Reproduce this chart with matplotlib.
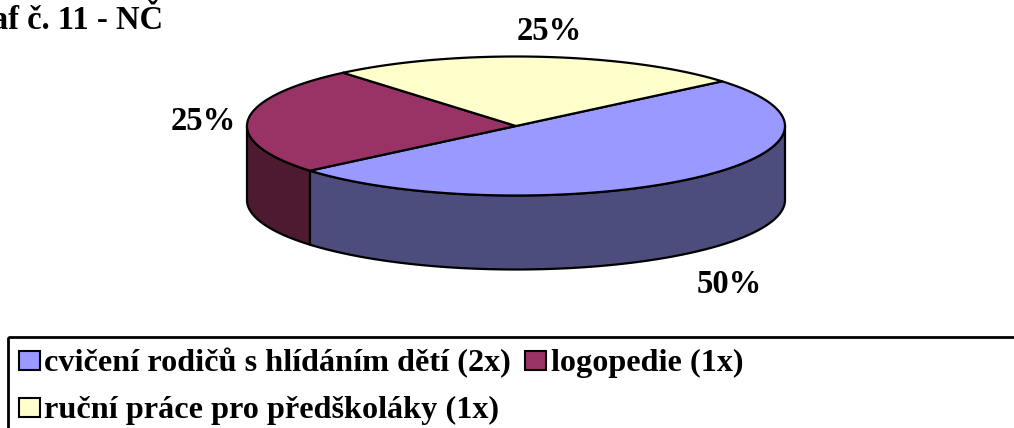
import numpy as np
import matplotlib
matplotlib.use("Agg")
import matplotlib.pyplot as plt
from matplotlib.patches import Polygon, Rectangle

# --- data ---
categories = ["cvičení rodičů s hlídáním dětí (2x)", "logopedie (1x)",
              "ruční práce pro předškoláky (1x)"]
counts = [2, 1, 1]
title = "Graf č. 11 - NČ"

# --- look ---
top_colors = ["#9999FF", "#993366", "#FFFFCC"]
side_colors = ["#4C4C7D", "#4D1A31", "#80806A"]
font = "Liberation Serif"

# pie geometry in pixel units (Excel 3-D pie)
cx, cy = 516, 126
rx, ry = 269, 69.5
depth = 74
start = 40.0  # degrees, slices run clockwise

# label anchors (pixels, baseline centre) in slice order
label_xy = [(729, 293), (203, 130), (549, 40)]

fig = plt.figure(figsize=(10.14, 4.28), dpi=100)
ax = fig.add_axes([0, 0, 1, 1])
ax.set_xlim(0, 1014)
ax.set_ylim(428, 0)
ax.axis("off")


def rim(a0, a1, n=120, dy=0.0):
    t = np.radians(np.linspace(a0, a1, n))
    return np.column_stack([cx + rx * np.cos(t), cy - ry * np.sin(t) + dy])


total = float(sum(counts))
fracs = [c / total for c in counts]
bounds = []
a = start
for f in fracs:
    bounds.append((a, a - f * 360))
    a -= f * 360

# sides (front half only: angles where sin < 0)
for (a0, a1), col in zip(bounds, side_colors):
    for k in (-1, 0, 1):
        lo, hi = k * 360 - 180, k * 360
        s0, s1 = min(a0, hi), max(a1, lo)
        if s0 <= s1:
            continue
        upper = rim(s0, s1)
        lower = rim(s1, s0, dy=depth)
        ax.add_patch(Polygon(np.vstack([upper, lower]), closed=True,
                             facecolor=col, edgecolor="black", lw=1.6,
                             joinstyle="round", zorder=2))

# tops
for (a0, a1), col in zip(bounds, top_colors):
    pts = np.vstack([[cx, cy], rim(a0, a1), [cx, cy]])
    ax.add_patch(Polygon(pts, closed=True, facecolor=col, edgecolor="black",
                         lw=1.6, joinstyle="round", zorder=3))

# percentage labels
for c, (x, y) in zip(counts, label_xy):
    ax.text(x, y, f"{round(100 * c / total)}%", ha="center", va="baseline",
            fontsize=23.5, fontweight="bold", family=font, zorder=5)

ax.text(163, 29, title, ha="right", va="baseline", fontsize=23.5,
        fontweight="bold", family=font)

# legend box (runs off the right and bottom edge)
ax.add_patch(Rectangle((7.5, 337), 1100, 200, facecolor="none",
                       edgecolor="black", lw=2.0, zorder=4))
legend_rows = [(19, 371, 44), (525, 371, 551), (19, 418, 44)]
for name, col, (mx, base, tx) in zip(categories, top_colors, legend_rows):
    ax.add_patch(Rectangle((mx, base - 20), 21, 19, facecolor=col,
                           edgecolor="black", lw=1.5, zorder=4))
    ax.text(tx, base, name, ha="left", va="baseline", fontsize=23.2,
            fontweight="bold", family=font)

fig.savefig("out.png", dpi=100)
